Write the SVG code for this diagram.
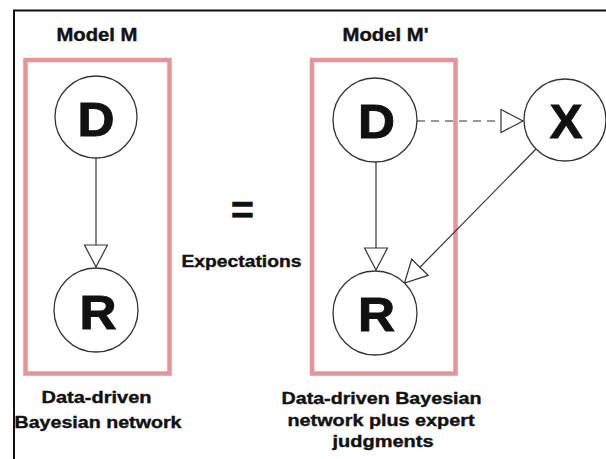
<svg xmlns="http://www.w3.org/2000/svg" width="606" height="459" viewBox="0 0 606 459">
<defs>
<style>
.frame{fill:none;stroke:#111;stroke-width:2}
.box{fill:none;stroke:#e5959a;stroke-width:4.5}
.node{fill:#fff;stroke:#333;stroke-width:1.3}
.edge{fill:none;stroke:#333;stroke-width:1.2}
.dash{stroke-dasharray:8 6}
.lbl{font-family:"Liberation Sans",Arial,sans-serif;font-weight:bold;fill:#111;stroke:#111;stroke-width:0.4;text-anchor:middle}
.cap{font-size:17px}
.title{font-size:18px}
.big{font-size:49px;stroke-width:1}
</style>
<marker id="tri" markerUnits="userSpaceOnUse" markerWidth="26" markerHeight="26" refX="23" refY="12" orient="auto" viewBox="0 0 26 24">
<path d="M1,0.5 L23,12 L1,23.5 Z" fill="#fff" stroke="#333" stroke-width="1.2" stroke-dasharray="none"/>
</marker>
</defs>
<rect width="606" height="459" fill="#fff"/>
<path class="frame" d="M14,459 V10.5 H606"/>
<rect class="box" x="25.5" y="60" width="144" height="313.5"/>
<rect class="box" x="312" y="60" width="143.5" height="313.5"/>
<g id="connectors">
<line class="edge" x1="96" y1="158" x2="96" y2="267" marker-end="url(#tri)"/>
<line class="edge" x1="376" y1="162" x2="376" y2="270" marker-end="url(#tri)"/>
<line class="edge dash" x1="417" y1="121" x2="523" y2="121" marker-end="url(#tri)"/>
<line class="edge" x1="536" y1="149" x2="404.5" y2="283" marker-end="url(#tri)"/>
</g>
<g id="node-D-left">
<circle class="node" cx="96" cy="117" r="41"/>
<text class="lbl big" x="96" y="135.5" textLength="37" lengthAdjust="spacingAndGlyphs">D</text>
</g>
<g id="node-R-left">
<circle class="node" cx="96" cy="310" r="42"/>
<text class="lbl big" x="98" y="328.5" textLength="37" lengthAdjust="spacingAndGlyphs">R</text>
</g>
<g id="node-D-right">
<circle class="node" cx="375" cy="120" r="42"/>
<text class="lbl big" x="376.5" y="138" textLength="37" lengthAdjust="spacingAndGlyphs">D</text>
</g>
<g id="node-X">
<circle class="node" cx="565" cy="120" r="41"/>
<text class="lbl big" x="566" y="138">X</text>
</g>
<g id="node-R-right">
<circle class="node" cx="375" cy="313" r="42"/>
<text class="lbl big" x="376.5" y="331" textLength="37" lengthAdjust="spacingAndGlyphs">R</text>
</g>
<g id="labels">
<text class="lbl title" x="97" y="41" textLength="81" lengthAdjust="spacingAndGlyphs">Model M</text>
<text class="lbl title" x="385.5" y="41" textLength="86" lengthAdjust="spacingAndGlyphs">Model M'</text>
<text class="lbl" x="242.5" y="224" font-size="40">=</text>
<text class="lbl cap" x="241.5" y="267" textLength="120" lengthAdjust="spacingAndGlyphs">Expectations</text>
<text class="lbl cap" x="96.5" y="403" textLength="110" lengthAdjust="spacingAndGlyphs">Data-driven</text>
<text class="lbl cap" x="98" y="428" textLength="167" lengthAdjust="spacingAndGlyphs">Bayesian network</text>
<text class="lbl cap" x="381.5" y="404" textLength="200" lengthAdjust="spacingAndGlyphs">Data-driven Bayesian</text>
<text class="lbl cap" x="381" y="426" textLength="187" lengthAdjust="spacingAndGlyphs">network plus expert</text>
<text class="lbl cap" x="383" y="447" textLength="101" lengthAdjust="spacingAndGlyphs">judgments</text>
</g>
</svg>
